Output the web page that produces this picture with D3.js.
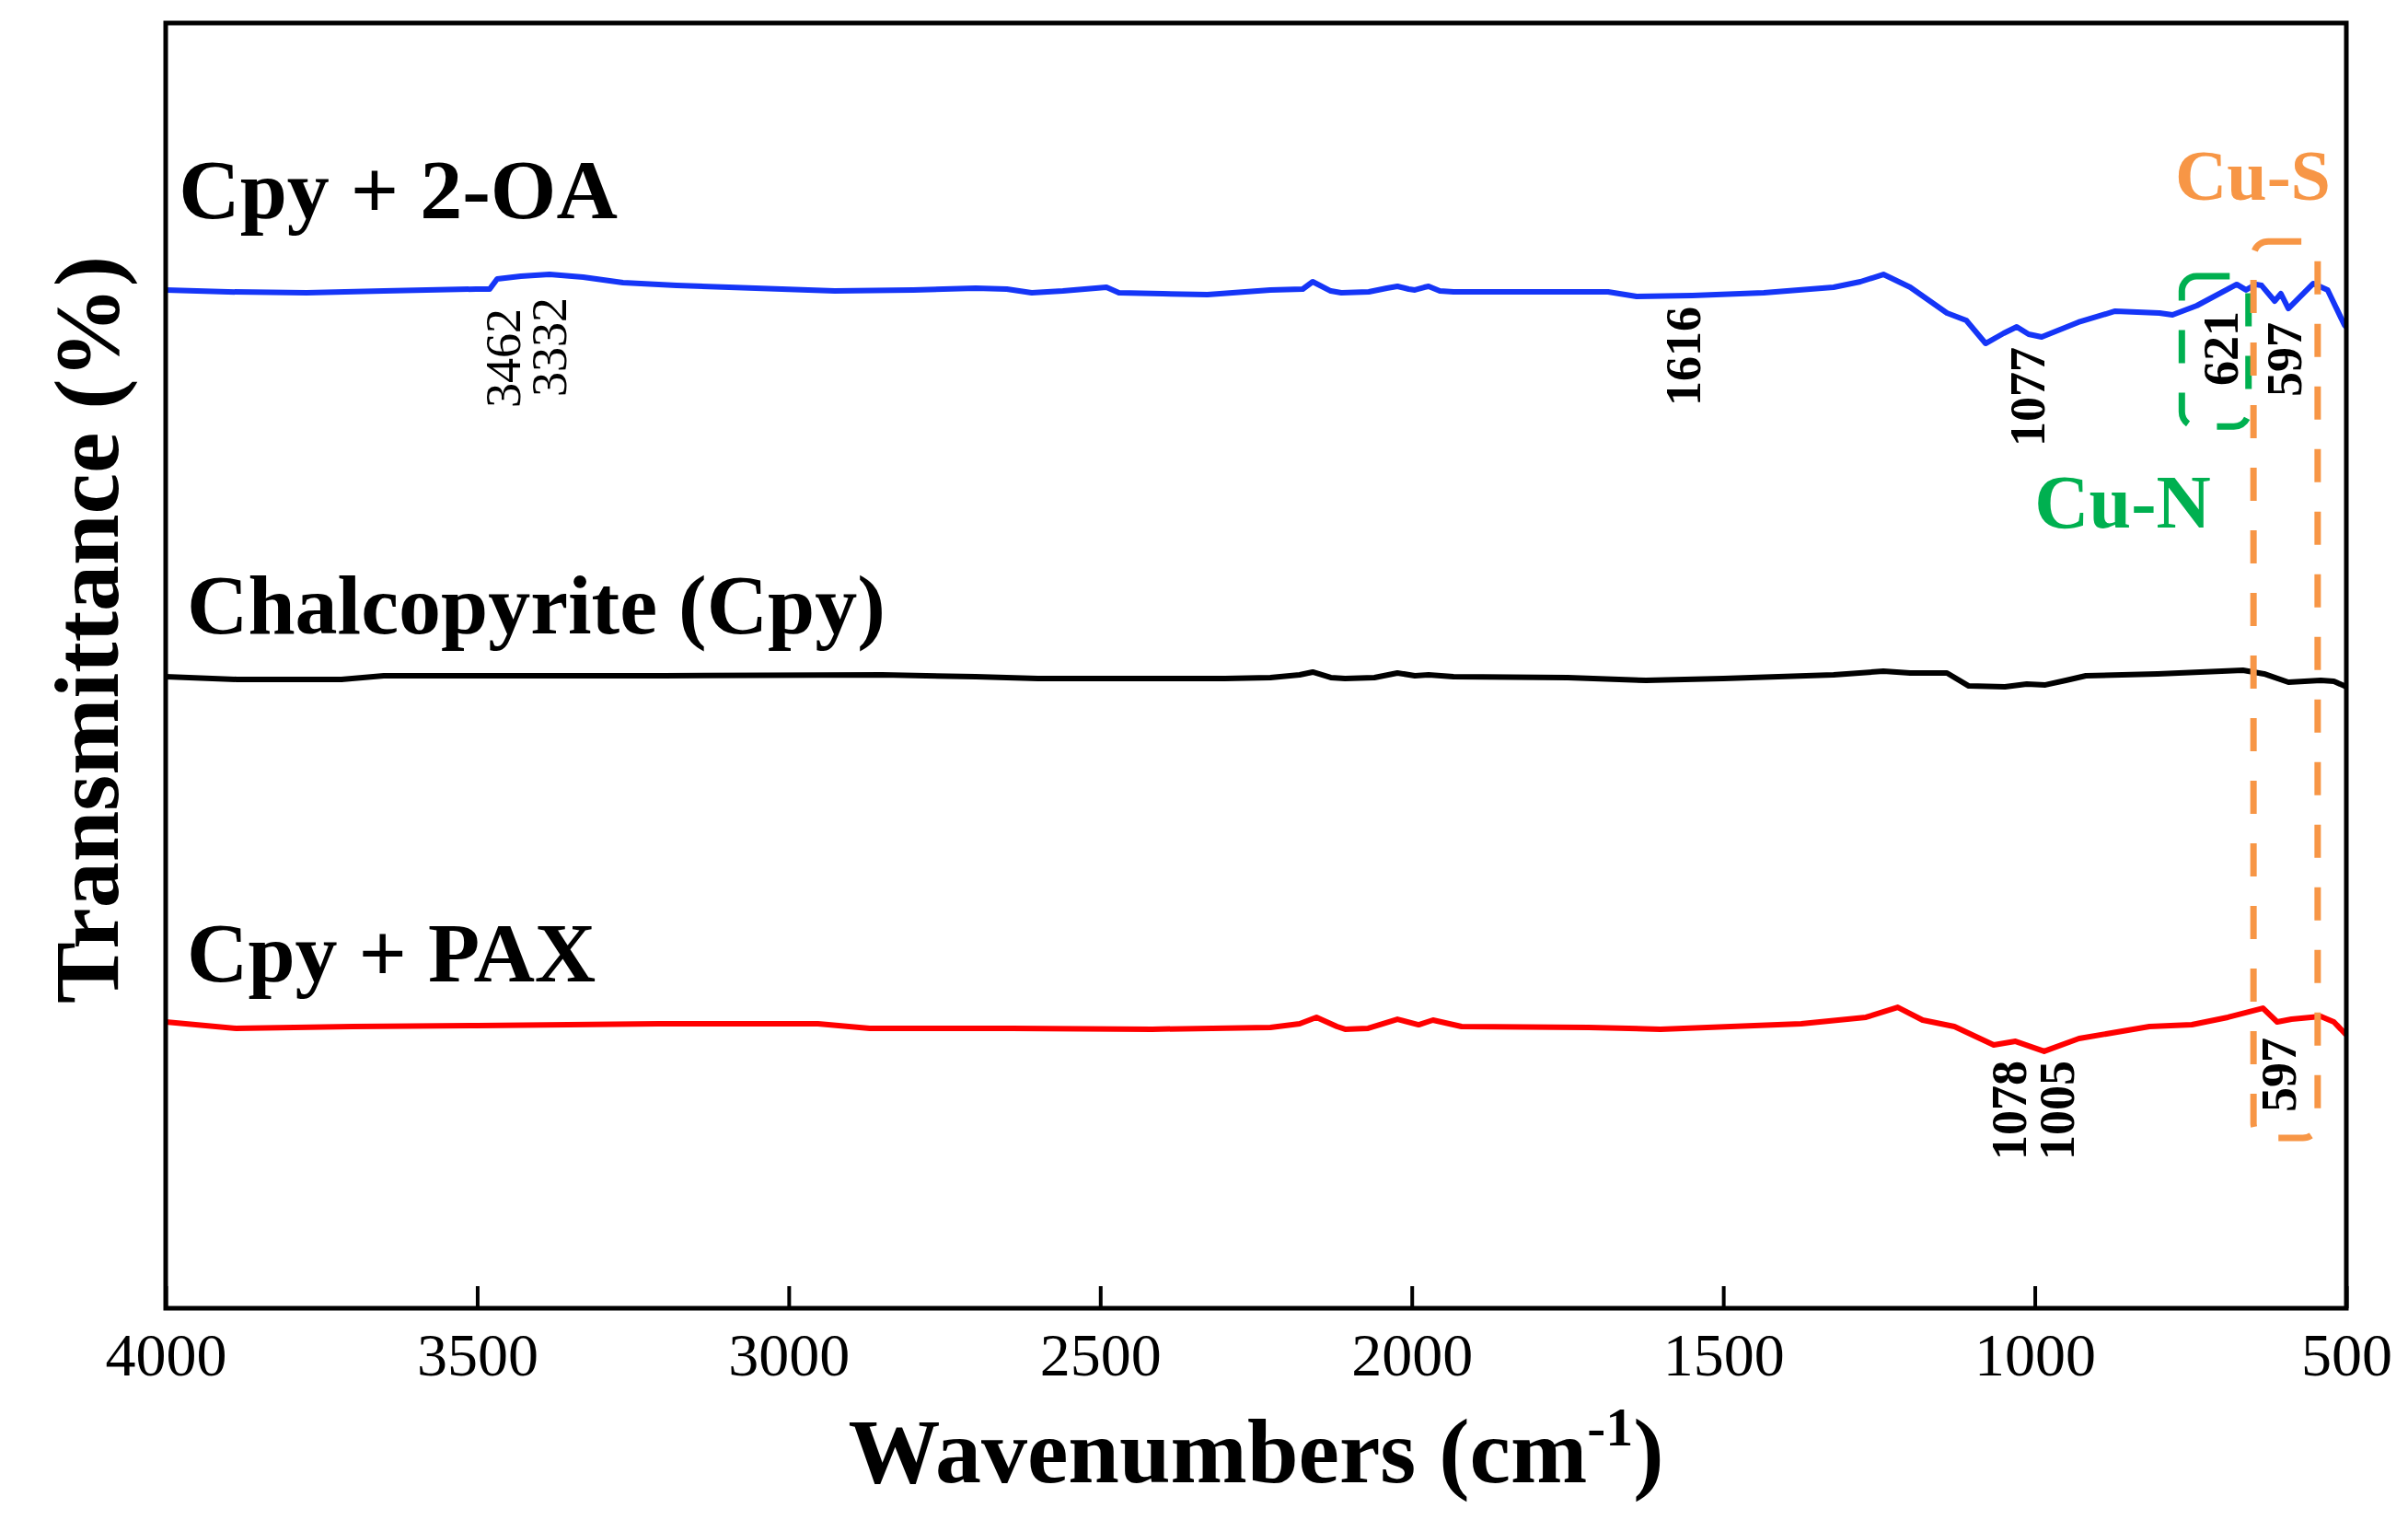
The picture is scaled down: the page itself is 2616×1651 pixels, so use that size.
<!DOCTYPE html>
<html>
<head>
<meta charset="utf-8">
<script src="https://cdn.jsdelivr.net/npm/d3@7"></script>
<style>
  body { margin: 0; background: #fff; }
  text { font-family: "Liberation Serif", "DejaVu Serif", serif; }
</style>
</head>
<body>
<div id="chart"></div>
<script>
// FTIR spectra, offset vertically. Values are [wavenumber, offset transmittance (a.u.)]
const blueSpectrum = [
  [4000, 79.23], [3900, 79.08], [3774, 79.01], [3650, 79.15], [3502, 79.30], [3480, 79.30],
  [3468, 80.09], [3430, 80.30], [3384, 80.44], [3330, 80.23], [3266, 79.80], [3180, 79.58],
  [3096, 79.44], [2926, 79.15], [2800, 79.23], [2700, 79.37], [2650, 79.30], [2610, 79.01],
  [2560, 79.15], [2490, 79.44], [2470, 79.01], [2400, 78.94], [2328, 78.87], [2227, 79.23],
  [2175, 79.30], [2159, 79.87], [2130, 79.15], [2113, 79.01], [2069, 79.08], [2040, 79.37],
  [2023, 79.51], [2005, 79.30], [1995, 79.23], [1980, 79.44], [1973, 79.51], [1955, 79.15],
  [1933, 79.08], [1800, 79.08], [1685, 79.08], [1639, 78.72], [1550, 78.80], [1435, 79.01],
  [1323, 79.44], [1280, 79.87], [1243, 80.44], [1200, 79.44], [1141, 77.44], [1110, 76.86],
  [1079, 75.07], [1050, 75.86], [1029, 76.36], [1010, 75.79], [989, 75.57], [930, 76.72],
  [871, 77.58], [800, 77.44], [779, 77.29], [740, 78.01], [676, 79.66], [661, 79.23],
  [645, 79.66], [636, 79.58], [615, 78.37], [605, 78.94], [593, 77.79], [553, 79.73],
  [530, 79.23], [503, 76.50], [500, 76.36]
];

const blackSpectrum = [
  [4000, 49.14], [3886, 48.93], [3718, 48.93], [3650, 49.21], [3400, 49.21], [3200, 49.21],
  [2850, 49.28], [2700, 49.14], [2600, 49.00], [2400, 49.00], [2300, 49.00], [2227, 49.07],
  [2180, 49.28], [2159, 49.50], [2130, 49.07], [2107, 49.00], [2060, 49.07], [2023, 49.43],
  [1995, 49.21], [1973, 49.28], [1933, 49.14], [1750, 49.07], [1624, 48.85], [1500, 49.00],
  [1323, 49.28], [1243, 49.57], [1200, 49.43], [1141, 49.43], [1106, 48.42], [1048, 48.35],
  [1013, 48.57], [983, 48.50], [950, 48.85], [918, 49.21], [803, 49.36], [700, 49.57],
  [666, 49.64], [632, 49.36], [593, 48.71], [541, 48.85], [520, 48.78], [503, 48.42],
  [500, 48.35]
];

const redSpectrum = [
  [4000, 22.28], [3887, 21.78], [3700, 21.92], [3500, 21.99], [3209, 22.13], [2953, 22.13],
  [2870, 21.78], [2643, 21.78], [2417, 21.71], [2227, 21.85], [2180, 22.13], [2153, 22.64],
  [2120, 21.92], [2107, 21.71], [2070, 21.78], [2023, 22.49], [1989, 22.06], [1966, 22.42],
  [1920, 21.92], [1716, 21.85], [1601, 21.71], [1375, 22.13], [1271, 22.64], [1220, 23.42],
  [1180, 22.42], [1129, 21.92], [1066, 20.49], [1031, 20.77], [985, 19.99], [929, 20.99],
  [816, 21.92], [748, 22.06], [690, 22.64], [634, 23.35], [611, 22.28], [588, 22.49],
  [541, 22.71], [520, 22.28], [503, 21.42], [500, 21.28]
];

const seriesNames = ["Cpy + 2-OA", "Chalcopyrite (Cpy)", "Cpy + PAX"];
const seriesColors = ["#1535f7", "#000000", "#ff0000"];
// label anchor: [wavenumber at text start, baseline value]
const seriesLabelPos = [[3979, 84.8], [3966, 52.5], [3966, 25.4]];

const xTicks = [4000, 3500, 3000, 2500, 2000, 1500, 1000, 500];

// peak labels: text, wavenumber of label centre, value at top end, bold?
const peakLabels = [
  { text: "3462", w: 3459, v: 77.79, bold: false },
  { text: "3332", w: 3384, v: 78.65, bold: false },
  { text: "1616", w: 1565, v: 77.94, bold: true },
  { text: "1077", w: 1011, v: 74.79, bold: true },
  { text: "621", w: 702, v: 77.58, bold: true },
  { text: "597", w: 600, v: 76.72, bold: true },
  { text: "1078", w: 1042, v: 19.27, bold: true },
  { text: "1005", w: 964, v: 19.27, bold: true },
  { text: "597", w: 608, v: 21.06, bold: true }
];

// dashed region boxes: [w left, w right, v top, v bottom]
const bandBoxes = [
  { name: "Cu-N", color: "#00b050", size: 82, box: [764, 657, 80.3, 68.6], label: [859, 60.74] },
  { name: "Cu-S", color: "#f79646", size: 78, box: [649, 546, 83.0, 13.25], label: [650, 86.25] }
];

const width = 2616;
const height = 1651;
const margin = { top: 25, right: 67, bottom: 230, left: 180 };

const svg = d3.select("#chart")
  .append("svg")
  .attr("width", width)
  .attr("height", height)
  .style("background", "#fff");

const x = d3.scaleLinear()
  .domain([4000, 500])
  .range([margin.left, width - margin.right]);

const y = d3.scaleLinear()
  .domain([0, 100])
  .range([height - margin.bottom, margin.top]);

// spectra
const line = d3.line()
  .x((d) => x(d[0]))
  .y((d) => y(d[1]));

[blueSpectrum, blackSpectrum, redSpectrum].forEach((spec, i) => {
  svg.append("path")
    .datum(spec)
    .attr("fill", "none")
    .attr("stroke", seriesColors[i])
    .attr("stroke-width", 6)
    .attr("stroke-linejoin", "round")
    .attr("d", line);
});

// dashed boxes and their labels
bandBoxes.forEach((b) => {
  const [w0, w1, v0, v1] = b.box;
  svg.append("rect")
    .attr("x", x(w0))
    .attr("y", y(v0))
    .attr("width", x(w1) - x(w0))
    .attr("height", y(v1) - y(v0))
    .attr("rx", 16)
    .attr("fill", "none")
    .attr("stroke", b.color)
    .attr("stroke-width", 7)
    .attr("stroke-dasharray", "36 32");

  svg.append("text")
    .attr("x", x(b.label[0]))
    .attr("y", y(b.label[1]))
    .attr("text-anchor", "middle")
    .attr("fill", b.color)
    .attr("font-size", b.size)
    .attr("font-weight", 700)
    .text(b.name);
});

// series labels
seriesNames.forEach((name, i) => {
  svg.append("text")
    .attr("x", x(seriesLabelPos[i][0]))
    .attr("y", y(seriesLabelPos[i][1]))
    .attr("font-size", 92)
    .attr("font-weight", 700)
    .attr("fill", "#000")
    .text(name);
});

// rotated peak labels hanging below the curves
const peakSize = 54;
svg.selectAll("text.peak")
  .data(peakLabels)
  .enter()
  .append("text")
  .attr("class", "peak")
  .attr("transform", (d) => `translate(${x(d.w) + peakSize * 0.34}, ${y(d.v)}) rotate(-90)`)
  .attr("text-anchor", "end")
  .attr("font-size", peakSize)
  .attr("font-weight", (d) => (d.bold ? 700 : 400))
  .attr("fill", "#000")
  .text((d) => d.text);

// frame
svg.append("rect")
  .attr("x", margin.left)
  .attr("y", margin.top)
  .attr("width", width - margin.left - margin.right)
  .attr("height", height - margin.top - margin.bottom)
  .attr("fill", "none")
  .attr("stroke", "#000")
  .attr("stroke-width", 5);

// bottom axis with inward ticks
const xAxis = svg.append("g")
  .attr("transform", `translate(0, ${height - margin.bottom})`)
  .call(
    d3.axisBottom(x)
      .tickValues(xTicks)
      .tickFormat(d3.format("d"))
      .tickSizeInner(-24)
      .tickSizeOuter(0)
      .tickPadding(26)
  );

xAxis.select(".domain").remove();
xAxis.selectAll(".tick line").attr("stroke", "#000").attr("stroke-width", 4);
xAxis.selectAll(".tick text")
  .attr("font-family", "Liberation Serif, serif")
  .attr("font-size", 66)
  .attr("fill", "#000");

// axis titles
const xTitle = svg.append("text")
  .attr("x", (margin.left + width - margin.right) / 2)
  .attr("y", 1610)
  .attr("text-anchor", "middle")
  .attr("font-size", 100)
  .attr("font-weight", 700)
  .attr("fill", "#000");
xTitle.append("tspan").text("Wavenumbers (cm");
xTitle.append("tspan").attr("font-size", 60).attr("dy", -40).text("-1");
xTitle.append("tspan").attr("dy", 40).text(")");

svg.append("text")
  .attr("transform", "translate(128, 684) rotate(-90)")
  .attr("text-anchor", "middle")
  .attr("font-size", 100)
  .attr("font-weight", 700)
  .attr("fill", "#000")
  .text("Transmittance (%)");
</script>
</body>
</html>
